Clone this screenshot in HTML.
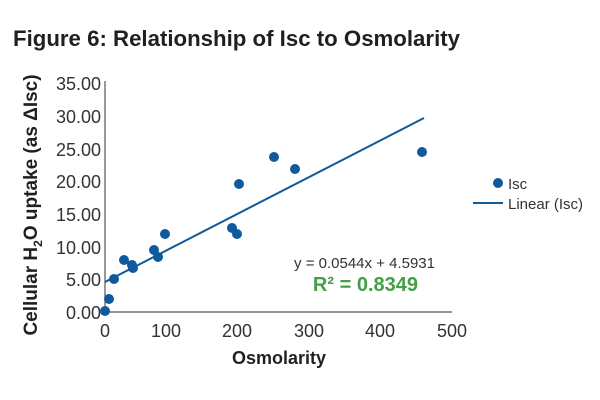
<!DOCTYPE html>
<html><head><style>body{margin:0;background:#fff}svg{display:block}</style></head><body>
<svg width="600" height="400" xmlns="http://www.w3.org/2000/svg" font-family="Liberation Sans, sans-serif">
<text x="13" y="46" font-size="22" font-weight="bold" fill="#231f20" textLength="447" lengthAdjust="spacingAndGlyphs">Figure 6:  Relationship of Isc to Osmolarity</text>
<line x1="105" y1="81" x2="105" y2="312" stroke="#555" stroke-width="1.2"/>
<line x1="105" y1="312" x2="452" y2="312" stroke="#555" stroke-width="1.2"/>
<g font-size="18" fill="#333" text-anchor="end">
<text x="101" y="90">35.00</text><text x="101" y="123">30.00</text><text x="101" y="156">25.00</text><text x="101" y="188">20.00</text><text x="101" y="221">15.00</text><text x="101" y="254">10.00</text><text x="101" y="286">5.00</text><text x="101" y="319">0.00</text>
</g>
<g font-size="18" fill="#333" text-anchor="middle">
<text x="105" y="337">0</text><text x="166" y="337">100</text><text x="237" y="337">200</text><text x="309" y="337">300</text><text x="380" y="337">400</text><text x="452" y="337">500</text>
</g>
<text x="279" y="364" font-size="18" font-weight="bold" fill="#231f20" text-anchor="middle">Osmolarity</text>
<text transform="translate(37,205) rotate(-90)" font-size="19" font-weight="bold" fill="#231f20" text-anchor="middle">Cellular H<tspan font-size="12" dy="5">2</tspan><tspan dy="-5">O uptake (as ΔIsc)</tspan></text>
<line x1="105" y1="282" x2="424" y2="118" stroke="#0f5a9c" stroke-width="2"/>
<g fill="#0f5a9c">
<circle cx="105" cy="311" r="5"/><circle cx="109" cy="299" r="5"/><circle cx="114" cy="279" r="5"/><circle cx="124" cy="260" r="5"/><circle cx="132" cy="265" r="5"/><circle cx="133" cy="268" r="5"/><circle cx="154" cy="250" r="5"/><circle cx="158" cy="257" r="5"/><circle cx="165" cy="234" r="5"/><circle cx="232" cy="228" r="5"/><circle cx="237" cy="234" r="5"/><circle cx="239" cy="184" r="5"/><circle cx="274" cy="157" r="5"/><circle cx="295" cy="169" r="5"/><circle cx="422" cy="152" r="5"/>
</g>
<text x="435" y="268" font-size="15" fill="#333" text-anchor="end">y = 0.0544x + 4.5931</text>
<text x="418" y="291" font-size="20" font-weight="bold" fill="#43a047" text-anchor="end">R² = 0.8349</text>
<circle cx="498" cy="183" r="5" fill="#0f5a9c"/>
<text x="508" y="189" font-size="15" fill="#333">Isc</text>
<line x1="473" y1="203" x2="503" y2="203" stroke="#0f5a9c" stroke-width="2"/>
<text x="508" y="209" font-size="15" fill="#333">Linear (Isc)</text>
</svg>
</body></html>
